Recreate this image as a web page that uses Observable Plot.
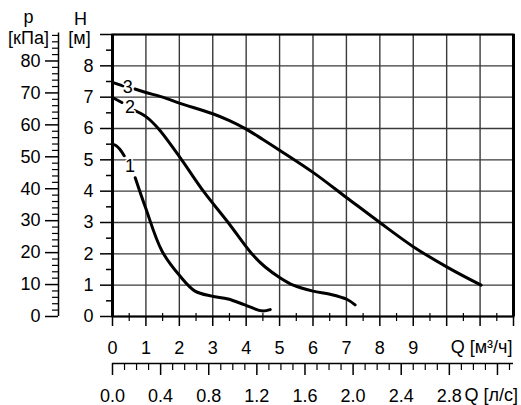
<!DOCTYPE html>
<html><head><meta charset="utf-8">
<script src="https://cdn.jsdelivr.net/npm/d3@7"></script>
<script src="https://cdn.jsdelivr.net/npm/@observablehq/plot@0.6"></script>
<style>body{margin:0;background:#fff} svg{display:block}</style>
</head><body><div id="chart"></div>
<script>
// Pump curves: head H [m] vs flow Q [m3/h]; null = break where the curve label sits
const curve1Q = [0, 0.1, 0.22, 0.35, 0.5, 0.68, 0.99, 1.48, 2.02, 2.47, 2.97, 3.46, 3.96, 4.47, 4.72];
const curve1H = [5.5, 5.46, 5.34, 5.13, null, 4.43, 3.47, 2.09, 1.29, 0.81, 0.65, 0.56, 0.37, 0.18, 0.22];
const curve2Q = [0, 0.28, 0.45, 0.67, 1.0, 1.37, 2.07, 2.72, 3.46, 4.17, 4.57, 5.01, 5.41, 6.0, 6.51, 7.01, 7.26];
const curve2H = [6.99, 6.83, null, 6.57, 6.38, 6.0, 5.0, 4.0, 3.0, 2.0, 1.58, 1.24, 1.0, 0.81, 0.71, 0.55, 0.37];
const curve3Q = [0, 0.31, 0.5, 0.67, 1.0, 1.5, 2.0, 3.0, 3.5, 4.0, 4.5, 5.01, 6.0, 7.0, 8.0, 9.0, 10.04, 11.03];
const curve3H = [7.47, 7.36, null, 7.26, 7.15, 7.0, 6.81, 6.47, 6.25, 5.98, 5.65, 5.3, 4.6, 3.8, 3.0, 2.23, 1.56, 1.0];
const curveNames = ["1", "2", "3"];
const labelQ = [0.52, 0.52, 0.46];
const labelH = [4.79, 6.68, 7.32];

const hTicks = [0, 1, 2, 3, 4, 5, 6, 7, 8, 9];
const hMinorTicks = [0.5, 1.5, 2.5, 3.5, 4.5, 5.5, 6.5, 7.5, 8.5];
const pTicks = [0, 10, 20, 30, 40, 50, 60, 70, 80];
const pMinorTicks = [2,4,6,8,12,14,16,18,22,24,26,28,32,34,36,38,42,44,46,48,52,54,56,58,62,64,66,68,72,74,76,78,82,84,86,88];
const qTicks = [0, 1, 2, 3, 4, 5, 6, 7, 8, 9, 10, 11, 12];
const qLabelled = [0, 1, 2, 3, 4, 5, 6, 7, 8, 9];
const qMinorTicks = [0.5, 1.5, 2.5, 3.5, 4.5, 5.5, 6.5, 7.5, 8.5, 9.5, 10.5, 11.5];
const lsTicks = [0, 0.4, 0.8, 1.2, 1.6, 2.0, 2.4, 2.8, 3.2];
const lsLabelled = [0, 0.4, 0.8, 1.2, 1.6, 2.0, 2.4, 2.8];
const lsMinorTicks = [0.1,0.2,0.3,0.5,0.6,0.7,0.9,1.0,1.1,1.3,1.4,1.5,1.7,1.8,1.9,2.1,2.2,2.3,2.5,2.6,2.7,2.9,3.0,3.1,3.3];

const M_PER_KPA = 1 / 9.81;   // kPa -> m of water
const M3H_PER_LS = 3.6;       // l/s -> m3/h

const curves = [];
[[curve1Q, curve1H], [curve2Q, curve2H], [curve3Q, curve3H]].forEach(([qs, hs], i) => {
  qs.forEach((q, j) => curves.push({id: curveNames[i], q, h: hs[j] == null ? NaN : hs[j]}));
});
const labels = curveNames.map((n, i) => ({n, q: labelQ[i], h: labelH[i]}));

const FS = 18;
const fmt1 = d3.format(".1f");
const T = {fontSize: FS, textAnchor: "middle", lineAnchor: "middle"};

const chart = Plot.plot({
  width: 521, height: 405,
  marginLeft: 112, marginRight: 8, marginTop: 34, marginBottom: 89,
  x: {domain: [0, 12], axis: null, label: null},
  y: {domain: [0, 9], axis: null, label: null},
  style: {fontFamily: "Arial, 'Liberation Sans', sans-serif", fontSize: FS + "px", color: "black", background: "white"},
  marks: [
    Plot.gridX(qTicks, {stroke: "#3a3a3a", strokeOpacity: 1, strokeWidth: 1.4}),
    Plot.gridY(hTicks, {stroke: "#3a3a3a", strokeOpacity: 1, strokeWidth: 1.4}),
    Plot.frame({stroke: "black", strokeWidth: 2}),
    Plot.ruleX([0, 12], {stroke: "black", strokeWidth: 3}),
    // H axis
    Plot.axisY(hTicks, {tickSize: 12, tickPadding: 7, strokeWidth: 1.5, tickFormat: d => d < 9 ? String(d) : "", label: null}),
    Plot.axisY(hMinorTicks, {tickSize: 6, strokeWidth: 1.5, fill: "none", label: null}),
    // p axis (kPa), drawn in metres of head
    Plot.ruleX([0], {dx: -54, y1: 0, y2: 9.05, stroke: "black", strokeWidth: 1.5}),
    Plot.axisY(pTicks.map(p => p * M_PER_KPA), {dx: -54, tickSize: 13, tickPadding: 5, strokeWidth: 1.5, tickFormat: d => String(Math.round(d / M_PER_KPA)), label: null}),
    Plot.axisY(pMinorTicks.map(p => p * M_PER_KPA), {dx: -54, tickSize: 6, strokeWidth: 1.2, fill: "none", label: null}),
    // Q axis m3/h
    Plot.axisX(qTicks, {tickSize: 10, tickPadding: 15, strokeWidth: 1.5, tickFormat: d => qLabelled.includes(d) ? String(d) : "", label: null}),
    Plot.axisX(qMinorTicks, {tickSize: 8, dy: -3, strokeWidth: 1.2, fill: "none", label: null}),
    Plot.text(["Q [м³/ч]"], {frameAnchor: "bottom-right", fontSize: FS, textAnchor: "end", lineAnchor: "middle", dx: -1, dy: 31}),
    // Q axis l/s
    Plot.ruleY([0], {dy: 47, stroke: "black", strokeWidth: 1.5}),
    Plot.axisX(lsTicks.map(v => v * M3H_PER_LS), {dy: 47, tickSize: 12, tickPadding: 14, strokeWidth: 1.5, tickFormat: d => { const v = d / M3H_PER_LS; return lsLabelled.some(l => Math.abs(l - v) < 1e-6) ? fmt1(v) : ""; }, label: null}),
    Plot.axisX(lsMinorTicks.map(v => v * M3H_PER_LS), {dy: 47, tickSize: 7, strokeWidth: 1.2, fill: "none", label: null}),
    Plot.text(["Q [л/с]"], {frameAnchor: "bottom-right", fontSize: FS, textAnchor: "start", lineAnchor: "middle", dx: -49, dy: 79}),
    // axis titles
    Plot.text(["p"], {frameAnchor: "top-left", ...T, dx: -84, dy: -17}),
    Plot.text(["[кПа]"], {frameAnchor: "top-left", ...T, dx: -84, dy: 4}),
    Plot.text(["H"], {frameAnchor: "top-left", ...T, dx: -32, dy: -15}),
    Plot.text(["[м]"], {frameAnchor: "top-left", ...T, dx: -33, dy: 4}),
    // curves
    Plot.line(curves, {x: "q", y: "h", z: "id", stroke: "black", strokeWidth: 3, curve: "catmull-rom"}),
    Plot.text(labels, {x: "q", y: "h", text: "n", fontSize: FS, fill: "black", stroke: "white", strokeWidth: 3})
  ]
});
document.getElementById("chart").appendChild(chart);
</script>
</body></html>
